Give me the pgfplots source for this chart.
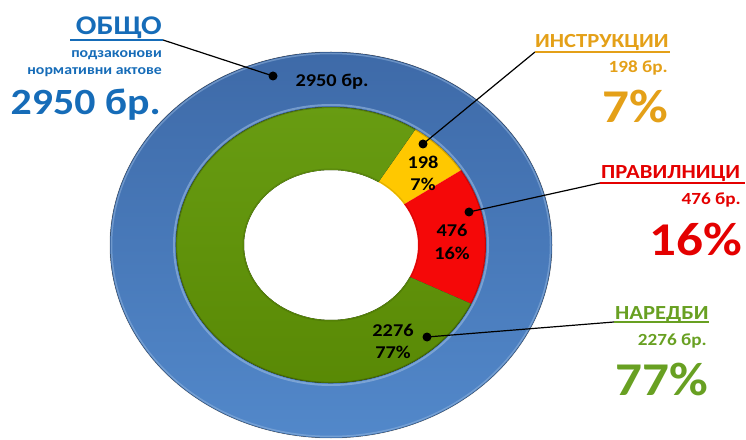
\documentclass[border=0pt]{standalone}
\usepackage{pgfplots}
\pgfplotsset{compat=1.18}
\usepackage{pgfplotstable}
\usepackage{graphicx}
\usepackage{fontspec}
\setmainfont{Carlito}

\definecolor{ringbluedark}{RGB}{62,106,168}
\definecolor{ringbluelight}{RGB}{82,136,202}
\definecolor{ringgreen}{RGB}{88,136,4}
\definecolor{ringgreenlight}{RGB}{104,156,18}
\definecolor{ringred}{RGB}{245,8,8}
\definecolor{ringyellow}{RGB}{255,200,0}
\definecolor{txtblue}{RGB}{22,108,184}
\definecolor{txtgold}{RGB}{228,160,24}
\definecolor{txtred}{RGB}{228,0,0}
\definecolor{txtgreen}{RGB}{104,160,34}

\newcommand{\sx}[1]{\scalebox{1.13}[1]{#1}}

% data: outer ring (total) and inner ring (by type)
\pgfplotstableread{
name value
total 2950
}\outerdata
\pgfplotstableread{
name value
instr 198
prav 476
nar 2276
}\innerdata

\pgfplotstablegetelem{0}{value}\of\outerdata \let\vT\pgfplotsretval
\pgfplotstablegetelem{0}{value}\of\innerdata \let\vA\pgfplotsretval
\pgfplotstablegetelem{1}{value}\of\innerdata \let\vB\pgfplotsretval
\pgfplotstablegetelem{2}{value}\of\innerdata \let\vC\pgfplotsretval

\pgfmathsetmacro{\aS}{57}
\pgfmathsetmacro{\aA}{\aS-360*(\vA/\vT)}
\pgfmathsetmacro{\aB}{\aA-360*(\vB/\vT)}
\pgfmathsetmacro{\aC}{\aB-360*(\vC/\vT)}

% geometry (axis units = pt)
\def\cx{331}\def\cy{194}
\def\ROx{221}\def\ROy{193}
\def\RMx{155}\def\RMy{138}
\def\RIx{87}\def\RIy{75}

% ring slice: #1 style, #2 start, #3 end, #4/#5 outer radii, #6/#7 inner radii
\newcommand{\slice}[7]{%
  \fill[#1] (axis cs:{\cx+#4*cos(#2)},{\cy+#5*sin(#2)})
    arc[start angle=#2, end angle=#3, x radius=#4pt, y radius=#5pt]
    -- (axis cs:{\cx+#6*cos(#3)},{\cy+#7*sin(#3)})
    arc[start angle=#3, end angle=#2, x radius=#6pt, y radius=#7pt] -- cycle;}

\begin{document}
\begin{tikzpicture}
\begin{axis}[
  scale only axis, width=746pt, height=439pt,
  xmin=0, xmax=746, ymin=0, ymax=439,
  hide axis, clip=false]

% outer ring (total)
\slice{top color=ringbluedark, bottom color=ringbluelight}{90}{-270}{\ROx}{\ROy}{\RMx}{\RMy}
% inner ring
\slice{ringyellow}{\aS}{\aA}{\RMx}{\RMy}{\RIx}{\RIy}
\slice{ringred}{\aA}{\aB}{\RMx}{\RMy}{\RIx}{\RIy}
\slice{top color=ringgreenlight, bottom color=ringgreen}{\aB}{\aC}{\RMx}{\RMy}{\RIx}{\RIy}

% bevel hints
\draw[ringbluelight!60!white, line width=1.5pt, opacity=0.5] (axis cs:\cx,\cy) ellipse [x radius=219.5pt, y radius=191.5pt];
\draw[black, line width=1pt, opacity=0.18] (axis cs:\cx,\cy) ellipse [x radius=221pt, y radius=193pt];
\draw[ringbluelight!60!white, line width=2pt, opacity=0.6] (axis cs:\cx,\cy) ellipse [x radius=157pt, y radius=140pt];
\draw[black, line width=1.2pt, opacity=0.2] (axis cs:\cx,\cy) ellipse [x radius=154.5pt, y radius=137.5pt];
\draw[black, line width=1pt, opacity=0.12] (axis cs:\cx,\cy) ellipse [x radius=88pt, y radius=76pt];

% in-ring labels
\node[font=\bfseries\fontsize{18}{18}\selectfont, inner sep=0] at (axis cs:332,357) {\sx{2950 бр.}};
\node[font=\bfseries\fontsize{18}{18}\selectfont, inner sep=0] at (axis cs:423,277) {\sx{198}};
\node[font=\bfseries\fontsize{18}{18}\selectfont, inner sep=0] at (axis cs:423,255) {\sx{7\%}};
\node[font=\bfseries\fontsize{18}{18}\selectfont, inner sep=0] at (axis cs:452,209) {\sx{476}};
\node[font=\bfseries\fontsize{18}{18}\selectfont, inner sep=0] at (axis cs:452,186) {\sx{16\%}};
\node[font=\bfseries\fontsize{18}{18}\selectfont, inner sep=0] at (axis cs:393,109) {\sx{2276}};
\node[font=\bfseries\fontsize{18}{18}\selectfont, inner sep=0] at (axis cs:393,87) {\sx{77\%}};

% leader lines and dots
\draw[black, line width=1.2pt] (axis cs:163,399) -- (axis cs:273,363);
\fill[black] (axis cs:273,363) circle[radius=4.5pt];
\draw[black, line width=1.2pt] (axis cs:535,387) -- (axis cs:423,295);
\fill[black] (axis cs:423,295) circle[radius=4.5pt];
\draw[black, line width=1.2pt] (axis cs:600,256) -- (axis cs:469,227);
\fill[black] (axis cs:469,227) circle[radius=4.5pt];
\draw[black, line width=1.2pt] (axis cs:614,117) -- (axis cs:427,102);
\fill[black] (axis cs:427,102) circle[radius=4.5pt];

% ОБЩО block
\node[anchor=base east, text=txtblue, font=\bfseries\fontsize{27}{27}\selectfont, inner sep=0] at (axis cs:162,404) {\sx{ОБЩО}};
\draw[txtblue, line width=1.6pt] (axis cs:70,399) -- (axis cs:163,399);
\node[anchor=base east, text=txtblue, font=\bfseries\fontsize{14}{14}\selectfont, inner sep=0] at (axis cs:162,381) {\sx{подзаконови}};
\node[anchor=base east, text=txtblue, font=\bfseries\fontsize{14}{14}\selectfont, inner sep=0] at (axis cs:162,364) {\sx{нормативни актове}};
\node[anchor=base east, text=txtblue, font=\bfseries\fontsize{37}{37}\selectfont, inner sep=0] at (axis cs:161,324) {\sx{2950 бр.}};

% ИНСТРУКЦИИ block
\node[anchor=base west, text=txtgold, font=\bfseries\fontsize{20}{20}\selectfont, inner sep=0] at (axis cs:535,391) {\sx{ИНСТРУКЦИИ}};
\draw[txtgold, line width=1.6pt] (axis cs:535,387) -- (axis cs:670,387);
\node[anchor=base east, text=txtgold, font=\bfseries\fontsize{17}{17}\selectfont, inner sep=0] at (axis cs:668,366) {\sx{198 бр.}};
\node[anchor=base east, text=txtgold, font=\bfseries\fontsize{47}{47}\selectfont, inner sep=0] at (axis cs:668,316) {\sx{7\%}};

% ПРАВИЛНИЦИ block
\node[anchor=base west, text=txtred, font=\bfseries\fontsize{20}{20}\selectfont, inner sep=0] at (axis cs:601,260) {\sx{ПРАВИЛНИЦИ}};
\draw[txtred, line width=1.6pt] (axis cs:600,256) -- (axis cs:745,256);
\node[anchor=base east, text=txtred, font=\bfseries\fontsize{17}{17}\selectfont, inner sep=0] at (axis cs:741,234) {\sx{476 бр.}};
\node[anchor=base east, text=txtred, font=\bfseries\fontsize{47}{47}\selectfont, inner sep=0] at (axis cs:742,183) {\sx{16\%}};

% НАРЕДБИ block
\node[anchor=base west, text=txtgreen, font=\bfseries\fontsize{20}{20}\selectfont, inner sep=0] at (axis cs:615,120) {\sx{НАРЕДБИ}};
\draw[txtgreen, line width=1.6pt] (axis cs:614,117) -- (axis cs:709,117);
\node[anchor=base east, text=txtgreen, font=\bfseries\fontsize{17}{17}\selectfont, inner sep=0] at (axis cs:707,94) {\sx{2276 бр.}};
\node[anchor=base east, text=txtgreen, font=\bfseries\fontsize{47}{47}\selectfont, inner sep=0] at (axis cs:708,44) {\sx{77\%}};

\end{axis}
\pgfresetboundingbox
\path (current axis.south west) rectangle (current axis.north east);
\end{tikzpicture}
\end{document}
